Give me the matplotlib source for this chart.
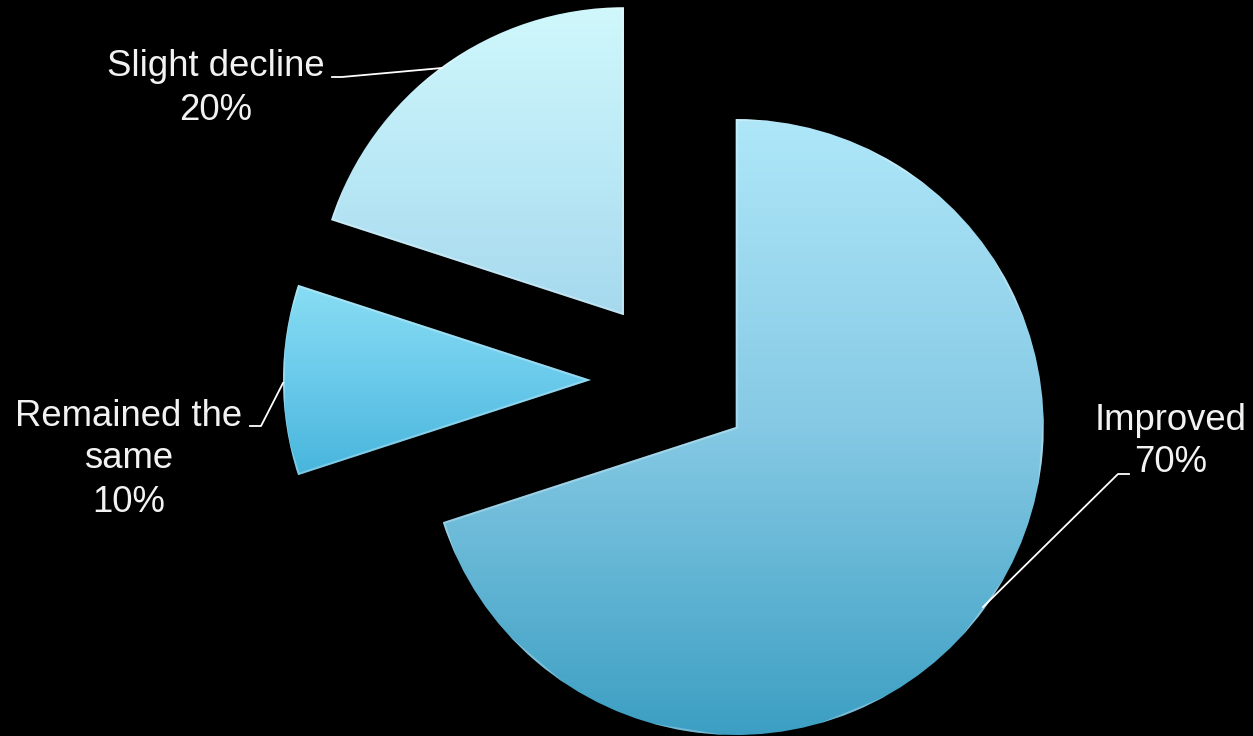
import numpy as np
import matplotlib
matplotlib.use("Agg")
import matplotlib.pyplot as plt
from matplotlib.colors import LinearSegmentedColormap

# survey answers
categories = ["Improved", "Remained the\nsame", "Slight decline"]
shares = [70, 10, 20]

# vertical gradient stops per slice (top -> bottom)
slice_colors = [
    ["#afe7f9", "#85c9e4", "#3b9ec2"],
    ["#88ddf3", "#6acaeb", "#48b5dc"],
    ["#d0f8fc", "#bbe9f6", "#a6d9ee"],
]

W, H = 1253, 736
plt.rcParams["font.family"] = ["Liberation Sans", "DejaVu Sans"]

fig = plt.figure(figsize=(W / 100, H / 100), dpi=100, facecolor="black")
ax = fig.add_axes([0, 0, 1, 1])
ax.set_facecolor("black")
ax.set_xlim(0, W)
ax.set_ylim(0, H)
ax.set_aspect("equal")
ax.axis("off")


def fy(y):
    # pixel row measured from the top -> axes y
    return H - y


# explode is in data units here (radius is not 1)
wedges, _ = ax.pie(shares, center=(671, fy(380)), radius=308,
                   explode=[80] * 3, startangle=90, counterclock=False,
                   wedgeprops=dict(linewidth=0))
ax.set_xlim(0, W)
ax.set_ylim(0, H)

grad = np.linspace(0, 1, 256).reshape(-1, 1)
for w, cols in zip(wedges, slice_colors):
    w.set_facecolor("none")
    verts = w.get_path().vertices
    x0, x1 = verts[:, 0].min(), verts[:, 0].max()
    y0, y1 = verts[:, 1].min(), verts[:, 1].max()
    cmap = LinearSegmentedColormap.from_list("g", cols)
    im = ax.imshow(grad, cmap=cmap, extent=(x0, x1, y0, y1), origin="upper",
                   aspect="auto", interpolation="bilinear", zorder=1)
    im.set_clip_path(w)
    # soft light rim along the slice edges
    rim = plt.Polygon(verts, closed=True, fill=False, edgecolor=(1, 1, 1, 0.28),
                      linewidth=3, zorder=2)
    rim.set_clip_path(w)
    ax.add_patch(rim)

txt = dict(color="#f2f2f2", fontsize=26.3, ha="center", va="baseline")

# labels with their leader lines
ax.text(216, fy(76), "Slight decline", **txt)
ax.text(216, fy(120), f"{shares[2]}%", **txt)
ax.plot([332, 342, 442], [fy(77), fy(77), fy(68)], color="white", lw=1.3)

ax.text(129, fy(426), "Remained the", **txt)
ax.text(129, fy(468), "same", **txt)
ax.text(129, fy(512), f"{shares[1]}%", **txt)
ax.plot([250, 261, 283], [fy(426), fy(426), fy(383)], color="white", lw=1.3)

ax.text(1171, fy(430), categories[0], **txt)
ax.text(1171, fy(472), f"{shares[0]}%", **txt)
ax.plot([1129, 1118, 983], [fy(474), fy(474), fy(607)], color="white", lw=1.3)

fig.savefig("out.png", dpi=100, facecolor="black")
